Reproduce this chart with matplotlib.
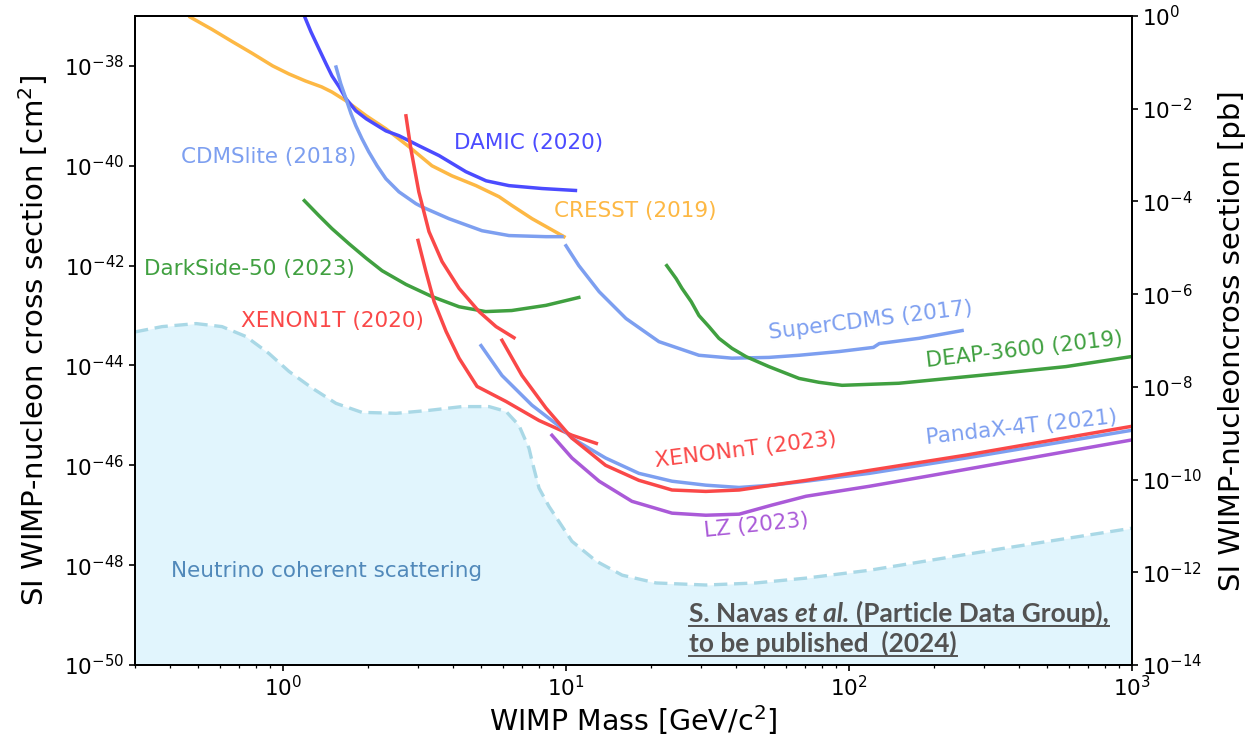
import numpy as np
import matplotlib
matplotlib.use("Agg")
import matplotlib.pyplot as plt
from matplotlib.ticker import NullLocator, FixedLocator
from matplotlib.lines import Line2D

# ---------------- data ----------------
cresst_mass = [0.47, 0.561, 0.66, 0.777, 0.92, 1.05, 1.2, 1.37, 1.49, 1.67, 1.97, 2.31, 2.79, 3.36,
               3.95, 4.81, 5.8, 6.44, 7.59, 9.84]
cresst_xsec = [9.5e-38, 5.4e-38, 3.1e-38, 1.8e-38, 1.0e-38, 6.9e-39, 5.0e-39, 3.8e-39, 3.0e-39, 2.0e-39,
               1.0e-39, 5.5e-40, 2.4e-40, 1.0e-40, 6.3e-41, 4.0e-41, 2.4e-41, 1.6e-41, 8.7e-42, 3.8e-42]

damic_mass = [1.19, 1.256, 1.34, 1.42, 1.49, 1.58, 1.67, 1.81, 1.97, 2.31, 2.57, 3.03, 3.56, 4.43,
              5.22, 6.29, 8.23, 10.8]
damic_xsec = [1.0e-37, 4.8e-38, 2.2e-38, 1.1e-38, 6.3e-39, 3.8e-39, 2.2e-39, 1.26e-39, 8.7e-40, 5.0e-40,
              4.0e-40, 2.5e-40, 1.6e-40, 7.6e-41, 5.0e-41, 4.0e-41, 3.5e-41, 3.2e-41]

cdmslite_mass = [1.54, 1.60, 1.67, 1.74, 1.81, 1.90, 2.01, 2.15, 2.31, 2.57, 2.95, 3.10, 3.86, 5.05,
                 6.29, 8.5, 9.68]
cdmslite_xsec = [9.5e-39, 4.4e-39, 2.2e-39, 1.1e-39, 6.3e-40, 3.5e-40, 1.9e-40, 1.0e-40, 5.5e-41,
                 3.0e-41, 1.74e-41, 1.5e-41, 8.7e-42, 5.0e-42, 4.0e-42, 3.8e-42, 3.8e-42]

supercdms_mass = [10.0, 11.1, 13.1, 16.3, 21.3, 29.5, 38.6, 52.1, 66.6, 92.2, 122, 128, 177, 251]
supercdms_xsec = [2.5e-42, 1.0e-42, 3.0e-43, 8.7e-44, 3.0e-44, 1.6e-44, 1.4e-44, 1.45e-44, 1.6e-44,
                  1.9e-44, 2.3e-44, 2.75e-44, 3.5e-44, 5.0e-44]

darkside_mass = [1.19, 1.34, 1.49, 1.71, 1.97, 2.24, 2.72, 3.36, 4.19, 5.2, 6.43, 8.5, 11.1]
darkside_xsec = [2.0e-41, 1.0e-41, 5.5e-42, 2.75e-42, 1.4e-42, 7.9e-43, 4.2e-43, 2.4e-43, 1.5e-43,
                 1.2e-43, 1.26e-43, 1.6e-43, 2.3e-43]

deap_mass = [22.7, 24.5, 25.7, 27.7, 29.5, 32.0, 34.7, 38.6, 43.3, 52.1, 66.6, 78.3, 94.5, 150, 339,
             585, 991]
deap_xsec = [1.0e-42, 5.5e-43, 3.5e-43, 1.9e-43, 1.0e-43, 6.0e-44, 3.5e-44, 2.2e-44, 1.5e-44, 9.5e-45,
             5.5e-45, 4.6e-45, 4.0e-45, 4.4e-45, 6.9e-45, 9.5e-45, 1.5e-44]

xenon1t_s2_mass = [2.72, 2.83, 3.02, 3.28, 3.65, 4.19, 4.93, 5.66, 6.55]
xenon1t_s2_xsec = [1.0e-39, 2.2e-40, 3.0e-41, 4.8e-42, 1.2e-42, 3.5e-43, 1.2e-43, 6.0e-44, 3.6e-44]

xenon1t_mass = [3.0, 3.2, 3.42, 3.77, 4.19, 4.85, 6.14, 8.03, 10.5, 12.8]
xenon1t_xsec = [3.2e-42, 7.6e-43, 1.9e-43, 4.8e-44, 1.4e-44, 3.8e-45, 1.9e-45, 7.9e-46, 4.0e-46, 2.75e-46]

xenonnt_mass = [5.94, 6.99, 8.5, 10.5, 13.8, 18.1, 23.7, 31.2, 40.9, 53.5, 70.5, 118, 259, 991]
xenonnt_xsec = [3.2e-44, 6.3e-45, 1.4e-45, 3.5e-46, 1.0e-46, 5.0e-47, 3.2e-47, 3.0e-47, 3.2e-47,
                4.0e-47, 5.0e-47, 7.9e-47, 1.6e-46, 6.0e-46]

pandax_mass = [5.01, 5.94, 7.58, 9.68, 10.5, 13.8, 18.1, 23.7, 31.2, 40.9, 53.5, 70.5, 118, 259, 991]
pandax_xsec = [2.5e-44, 6.3e-45, 1.6e-45, 5.5e-46, 3.5e-46, 1.4e-46, 6.9e-47, 4.8e-47, 4.0e-47,
               3.6e-47, 4.0e-47, 4.8e-47, 6.9e-47, 1.4e-46, 5.0e-46]

lz_mass = [8.92, 10.5, 13.1, 17.1, 23.7, 31.2, 40.9, 53.5, 70.5, 118, 197, 991]
lz_xsec = [4.0e-46, 1.4e-46, 4.8e-47, 1.9e-47, 1.1e-47, 1.0e-47, 1.05e-47, 1.6e-47, 2.4e-47,
           3.8e-47, 6.3e-47, 3.2e-46]

fog_mass = [0.3, 0.374, 0.493, 0.609, 0.74, 0.892, 1.05, 1.27, 1.54, 1.90, 2.51, 3.28, 4.29, 5.35,
            6.14, 6.82, 7.4, 7.59, 8.03, 8.71, 10.5, 12.8, 15.8, 20.8, 31.2, 46.9, 70.5, 118, 339, 1000]
fog_xsec = [4.7e-44, 6.0e-44, 6.9e-44, 6.0e-44, 3.8e-44, 1.74e-44, 7.6e-45, 3.5e-45, 1.74e-45, 1.15e-45,
            1.1e-45, 1.26e-45, 1.5e-45, 1.5e-45, 1.2e-45, 6.3e-46, 2.2e-46, 1.2e-46, 3.5e-47, 1.5e-47,
            3.0e-48, 1.2e-48, 6.3e-49, 4.4e-49, 4.0e-49, 4.4e-49, 5.5e-49, 7.9e-49, 2.1e-48, 5.5e-48]

left_ticks = [1e-50, 1e-48, 1e-46, 1e-44, 1e-42, 1e-40, 1e-38]
right_ticks = [1e-14, 1e-12, 1e-10, 1e-8, 1e-6, 1e-4, 1e-2, 1e0]

# ---------------- figure ----------------
W, H = 1251, 737
fig = plt.figure(figsize=(W / 100, H / 100), dpi=100)
ax = fig.add_axes([135 / W, 1 - 665 / H, 997 / W, 649 / H])
ax.set_xscale("log")
ax.set_yscale("log")
ax.set_xlim(0.3, 1000)
ax.set_ylim(1e-50, 1e-37)

C_DAMIC = "#4b4bff"
C_CRESST = "#fdb844"
C_CDMS = "#7d9ff0"
C_GREEN = "#40a040"
C_RED = "#fa4848"
C_LZ = "#aa5ad8"
C_FOGFILL = "#e1f5fd"
C_FOGLINE = "#a9d8e6"

ax.fill_between(fog_mass, fog_xsec, 1e-50, color=C_FOGFILL, lw=0, zorder=0)
ax.plot(fog_mass, fog_xsec, color=C_FOGLINE, lw=2.4, ls=(0, (4, 2)), zorder=1)

lw = 2.5
ax.plot(cresst_mass, cresst_xsec, color=C_CRESST, lw=lw)
ax.plot(damic_mass, damic_xsec, color=C_DAMIC, lw=lw)
ax.plot(cdmslite_mass, cdmslite_xsec, color=C_CDMS, lw=lw)
ax.plot(supercdms_mass, supercdms_xsec, color=C_CDMS, lw=lw)
ax.plot(darkside_mass, darkside_xsec, color=C_GREEN, lw=lw)
ax.plot(deap_mass, deap_xsec, color=C_GREEN, lw=lw)
ax.plot(xenon1t_s2_mass, xenon1t_s2_xsec, color=C_RED, lw=lw)
ax.plot(xenon1t_mass, xenon1t_xsec, color=C_RED, lw=lw)
ax.plot(pandax_mass, pandax_xsec, color=C_CDMS, lw=lw)
ax.plot(lz_mass, lz_xsec, color=C_LZ, lw=lw)
ax.plot(xenonnt_mass, xenonnt_xsec, color=C_RED, lw=lw)

fs_lab = 15.5
ax.text(4.02, 2.9e-40, "DAMIC (2020)", color=C_DAMIC, fontsize=fs_lab, va="center", ha="left")
ax.text(0.436, 1.5e-40, "CDMSlite (2018)", color=C_CDMS, fontsize=fs_lab, va="center", ha="left")
ax.text(9.07, 1.26e-41, "CRESST (2019)", color=C_CRESST, fontsize=fs_lab, va="center", ha="left")
ax.text(0.323, 8.7e-43, "DarkSide-50 (2023)", color=C_GREEN, fontsize=fs_lab, va="center", ha="left")
ax.text(0.71, 7.6e-44, "XENON1T (2020)", color=C_RED, fontsize=fs_lab, va="center", ha="left")
ax.text(0.402, 7.6e-49, "Neutrino coherent scattering", color="#5189ba", fontsize=fs_lab,
        va="center", ha="left")
ax.text(119, 7.9e-44, "SuperCDMS (2017)", color=C_CDMS, fontsize=fs_lab, va="center", ha="center",
        rotation=7, rotation_mode="anchor")
ax.text(415, 2.1e-44, "DEAP-3600 (2019)", color=C_GREEN, fontsize=fs_lab, va="center", ha="center",
        rotation=6.5, rotation_mode="anchor")
ax.text(43.3, 2.0e-46, "XENONnT (2023)", color=C_RED, fontsize=fs_lab, va="center", ha="center",
        rotation=7, rotation_mode="anchor")
ax.text(408, 5.6e-46, "PandaX-4T (2021)", color=C_CDMS, fontsize=fs_lab, va="center", ha="center",
        rotation=6.3, rotation_mode="anchor")
ax.text(46.9, 6.3e-48, "LZ (2023)", color=C_LZ, fontsize=fs_lab, va="center", ha="center",
        rotation=6, rotation_mode="anchor")

# axes styling
fs_tick = 15.5
ax.yaxis.set_major_locator(FixedLocator(left_ticks))
ax.yaxis.set_minor_locator(NullLocator())
ax.tick_params(axis="both", which="major", labelsize=fs_tick, length=4, width=1.2)
ax.tick_params(axis="x", which="minor", length=2.5, width=0.9)
for sp in ax.spines.values():
    sp.set_linewidth(1.4)
ax.set_xlabel("WIMP Mass [GeV/c$^2$]", fontsize=20.5, labelpad=1.5)
ax.set_ylabel("SI WIMP-nucleon cross section [cm$^2$]", fontsize=21, labelpad=10)

ax2 = ax.twinx()
ax2.set_yscale("log")
ax2.set_ylim(1e-14, 1e0)
ax2.yaxis.set_major_locator(FixedLocator(right_ticks))
ax2.yaxis.set_minor_locator(NullLocator())
ax2.tick_params(axis="y", which="major", labelsize=fs_tick, length=4, width=1.2)
for sp in ax2.spines.values():
    sp.set_linewidth(1.4)
ax2.set_ylabel("SI WIMP-nucleoncross section [pb]", fontsize=21, labelpad=11)

# ---------------- citation note (bold, underlined) ----------------
fig.canvas.draw()
renderer = fig.canvas.get_renderer()
NOTE_C = "#525252"
NOTE_FONT = ["Lato", "DejaVu Sans"]


def build_line(pieces, x0, y0, fs):
    arts = []
    x = x0
    for i, (s, st) in enumerate(pieces):
        t = fig.text(x / W, y0 / H, s, fontsize=fs, fontweight="bold", fontstyle=st,
                     color=NOTE_C, va="baseline", ha="left", family=NOTE_FONT)
        arts.append(t)
        bb = t.get_window_extent(renderer)
        x = bb.x1 + (fs * 1.39 * 0.26 if i < len(pieces) - 1 else 0)
    return arts, x


line1 = [("S. Navas", "normal"), ("et al.", "italic"), ("(Particle Data Group),", "normal")]
line2 = [("to be published  (2024)", "normal")]
x_start = 689
fs0 = 18
arts, xe = build_line(line1, x_start, 115, fs0)
for a in arts:
    a.remove()
fs = fs0 * (1110 - x_start) / (xe - x_start)
arts1, xe1 = build_line(line1, x_start, 115, fs)
arts2, xe2 = build_line(line2, x_start, 85, fs)
for (xa, xb, yb) in [(x_start, xe1, 115), (x_start, xe2, 85)]:
    fig.add_artist(Line2D([xa / W, xb / W], [(yb - 3.5) / H, (yb - 3.5) / H], color=NOTE_C,
                          lw=1.4, transform=fig.transFigure))

fig.savefig("out.png", dpi=100)
